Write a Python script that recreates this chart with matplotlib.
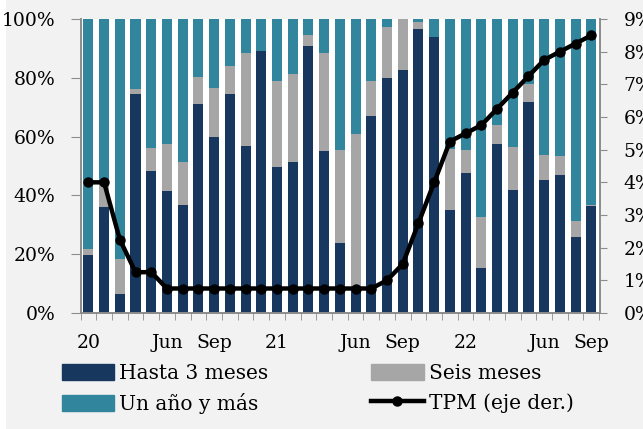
import matplotlib
matplotlib.use("Agg")
import matplotlib.pyplot as plt
from matplotlib.lines import Line2D
from matplotlib.patches import Patch, Rectangle
import numpy as np

# monthly, Jan 2020 .. Sep 2022
hasta_3 = [19.8, 35.9, 6.6, 74.6, 48.3, 41.5, 36.7, 71.2, 59.9, 74.6, 56.9, 89.0,
           49.5, 51.5, 90.7, 55.0, 23.9, 8.0, 67.0, 79.8, 82.5, 96.6, 93.8,
           34.9, 47.7, 15.2, 57.4, 41.7, 71.9, 45.4, 46.9, 26.0, 36.3]
seis_top = [21.8, 44.0, 18.5, 76.3, 56.0, 57.6, 51.5, 80.4, 76.5, 84.1, 88.5, 89.0,
            78.9, 81.4, 94.7, 88.5, 55.6, 60.8, 78.9, 97.4, 100.0, 99.1, 93.8,
            55.9, 55.3, 32.8, 63.8, 56.6, 78.0, 53.7, 53.5, 31.2, 36.7]
tpm = [4.0, 4.0, 2.25, 1.25, 1.25, 0.75, 0.75, 0.75, 0.75, 0.75, 0.75, 0.75,
       0.75, 0.75, 0.75, 0.75, 0.75, 0.75, 0.75, 1.0, 1.5, 2.75, 4.0,
       5.25, 5.5, 5.75, 6.25, 6.75, 7.25, 7.75, 8.0, 8.25, 8.5]
tick_pos = [0, 5, 8, 12, 17, 20, 24, 29, 32]
tick_labels = ["20", "Jun", "Sep", "21", "Jun", "Sep", "22", "Jun", "Sep"]

navy = "#17375E"
teal = "#31859C"
grey = "#A6A6A6"
spine = "#8C8C8C"

plt.rcParams["font.family"] = ["DejaVu Serif"]
plt.rcParams["font.size"] = 13.5

hasta = np.array(hasta_3)
seis = np.array(seis_top) - hasta
anio = 100 - np.array(seis_top)
x = np.arange(len(hasta))

fig = plt.figure(figsize=(6.43, 4.29), dpi=100, facecolor="white")
fig.patches.append(Rectangle((6 / 643, 0), 1, 1, transform=fig.transFigure,
                             facecolor="#F2F2F2", edgecolor="none", zorder=-10))
ax = fig.add_axes([80.5 / 643, 1 - 313 / 429, (600 - 80.5) / 643, 294 / 429])
ax.set_facecolor("white")

w = 0.64
ax.bar(x, hasta, w, color=navy)
ax.bar(x, seis, w, bottom=hasta, color=grey)
ax.bar(x, anio, w, bottom=hasta + seis, color=teal)
ax.set_xlim(-0.5, 32.55)
ax.set_ylim(0, 100)
ax.set_yticks(range(0, 101, 20))
ax.set_yticklabels([f"{v}%" for v in range(0, 101, 20)])
ax.set_xticks(tick_pos)
ax.set_xticklabels(tick_labels)
ax.set_xticks(np.arange(-0.5, 33, 1), minor=True)
ax.tick_params(axis="x", which="major", length=0, pad=15)
ax.tick_params(axis="x", which="minor", length=5, color=spine, direction="out")
ax.tick_params(axis="y", length=7, color=spine, pad=11)

ax2 = ax.twinx()
ax2.plot(x, tpm, color="black", lw=3.2, marker="o", ms=6.5)
ax2.set_ylim(0, 9)
ax2.set_yticks(range(0, 10))
ax2.set_yticklabels([f"{v}%" for v in range(0, 10)])
ax2.tick_params(axis="y", length=5, color=spine, pad=12)

for a in (ax, ax2):
    a.spines["top"].set_visible(False)
    for s in ("left", "right", "bottom"):
        a.spines[s].set_color(spine)
        a.spines[s].set_linewidth(1.2)

handles = [Patch(color=navy), Patch(color=teal), Patch(color=grey),
           Line2D([], [], color="black", lw=3.2, marker="o", ms=6.5)]
labels = ["Hasta 3 meses", "Un año y más", "Seis meses", "TPM (eje der.)"]
fig.legend(handles, labels, ncol=2, frameon=False, loc="upper left",
           bbox_to_anchor=(62 / 643, 1 - 364 / 429), borderpad=0, borderaxespad=0,
           handlelength=2.6, handleheight=0.8, handletextpad=0.25,
           columnspacing=5.1, labelspacing=0.5, fontsize=14.5)

fig.savefig("out.png", dpi=100, facecolor=fig.get_facecolor())
